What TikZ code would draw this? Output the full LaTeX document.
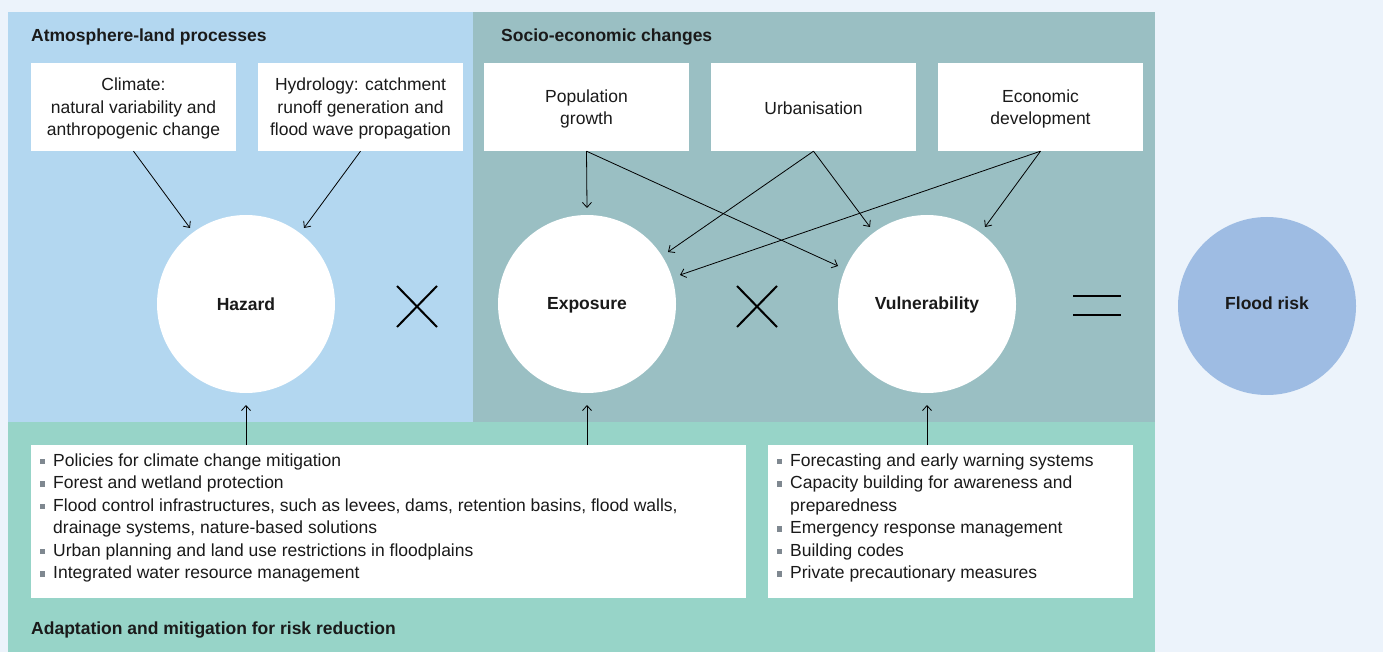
\documentclass[tikz,border=0pt]{standalone}
\usepackage{fontspec}
\setmainfont{Liberation Sans}
\usetikzlibrary{arrows.meta}
\definecolor{bgc}{HTML}{ECF3FB}
\definecolor{bluep}{HTML}{B3D7F0}
\definecolor{tealp}{HTML}{9ABFC3}
\definecolor{greenp}{HTML}{97D4C8}
\definecolor{floodc}{HTML}{9EBCE3}
\definecolor{bulletgray}{HTML}{7F8890}
\definecolor{txt}{HTML}{1A1A1A}
\newcommand\bsq{\textcolor{bulletgray}{\rule[2pt]{5.5pt}{5.5pt}}}
\newcommand\lowtext[2]{\raisebox{-#1}[\height][\depth]{\begin{tabular}{@{}c@{}}#2\end{tabular}}}
\tikzset{
  title/.style={font=\bfseries\fontsize{17.5}{22.5}\selectfont, anchor=base west, inner sep=0, text=txt},
  topbox/.style={fill=white, minimum width=205, minimum height=88, align=center, inner sep=0, text=txt},
  circ/.style={circle, fill=white, minimum size=178, inner sep=0, font=\bfseries\fontsize{17.5}{22.5}\selectfont, text=txt},
  listbox/.style={fill=white, anchor=north west, inner sep=0},
  listtext/.style={anchor=base west, inner sep=0, text=txt},
  arr/.style={-{Straight Barb[length=5pt,width=9pt]}, line width=0.8pt},
  sym/.style={line width=2pt}
}
\begin{document}
\begin{tikzpicture}[x=1pt,y=-1pt, font=\fontsize{17.5}{22.5}\selectfont]
\useasboundingbox (0,0) rectangle (1383,652);
\fill[bgc] (0,0) rectangle (1383,652);
% panels
\fill[bluep] (8,12) rectangle (473,422);
\fill[tealp] (473,12) rectangle (1155,422);
\fill[greenp] (8,422) rectangle (1155,652);
% titles
\node[title] (t1) at (31,42) {Atmosphere-land processes};
\node[title] (t2) at (501,42) {Socio-economic changes};
\node[title] (t3) at (31,634) {Adaptation and mitigation for risk reduction};
% top boxes
\node[topbox] (clim) at (133.5,107) {\lowtext{2pt}{Climate:\\natural variability and\\anthropogenic change}};
\node[topbox] (hydro) at (360.5,107) {\lowtext{2pt}{Hydrology: catchment\\runoff generation and\\flood wave propagation}};
\node[topbox] (pop) at (586.5,107) {\lowtext{2pt}{Population\\growth}};
\node[topbox] (urb) at (813.5,107) {\lowtext{3pt}{Urbanisation}};
\node[topbox] (eco) at (1040.5,107) {\lowtext{2pt}{Economic\\development}};
% circles
\node[circ] (haz) at (246,304) {Hazard};
\node[circ] (expo) at (587,304) {\lowtext{1pt}{Exposure}};
\node[circ] (vul) at (927,304) {\lowtext{1pt}{Vulnerability}};
\node[circ, fill=floodc] (flood) at (1267,306) {\lowtext{-1pt}{Flood risk}};
% operators
\draw[sym] (397,286) -- (437,327) (397,327) -- (437,286);
\draw[sym] (737,286) -- (777,327) (737,327) -- (777,286);
\draw[sym] (1073,296) -- (1121,296) (1073,315) -- (1121,315);
% arrow end coordinates
\coordinate (hz1) at (190,228);
\coordinate (hz2) at (304,228);
\coordinate (ex1) at (587,208);
\coordinate (ex2) at (668,252);
\coordinate (ex3) at (680,275);
\coordinate (vu1) at (838,266);
\coordinate (vu2) at (870,227);
\coordinate (vu3) at (985,227);
\draw[arr] (clim.south) -- (hz1);
\draw[arr] (hydro.south) -- (hz2);
\draw[arr] (pop.south) -- (ex1);
\draw[arr] (pop.south) -- (vu1);
\draw[arr] (urb.south) -- (ex2);
\draw[arr] (urb.south) -- (vu2);
\draw[arr] (eco.south) -- (ex3);
\draw[arr] (eco.south) -- (vu3);
% bottom boxes
\node[listbox, minimum width=715, minimum height=153] (lbox) at (31,445) {};
\node[listbox, minimum width=365, minimum height=153] (rbox) at (768,445) {};
\node[listtext] (ltext) at (39.5,466) {\begin{tabular}[t]{@{}l@{\hspace{8pt}}l@{}}
\bsq & Policies for climate change mitigation\\
\bsq & Forest and wetland protection\\
\bsq & Flood control infrastructures, such as levees, dams, retention basins, flood walls,\\
 & drainage systems, nature-based solutions\\
\bsq & Urban planning and land use restrictions in floodplains\\
\bsq & Integrated water resource management
\end{tabular}};
\node[listtext] (rtext) at (776.5,466) {\begin{tabular}[t]{@{}l@{\hspace{8pt}}l@{}}
\bsq & Forecasting and early warning systems\\
\bsq & Capacity building for awareness and\\
 & preparedness\\
\bsq & Emergency response management\\
\bsq & Building codes\\
\bsq & Private precautionary measures
\end{tabular}};
% upward arrows
\coordinate (hb) at (246,405);
\coordinate (eb) at (587,405);
\coordinate (vb) at (927,405);
\draw[arr] (lbox.north -| haz.south) -- (hb);
\draw[arr] (lbox.north -| expo.south) -- (eb);
\draw[arr] (rbox.north -| vul.south) -- (vb);
\end{tikzpicture}
\end{document}
